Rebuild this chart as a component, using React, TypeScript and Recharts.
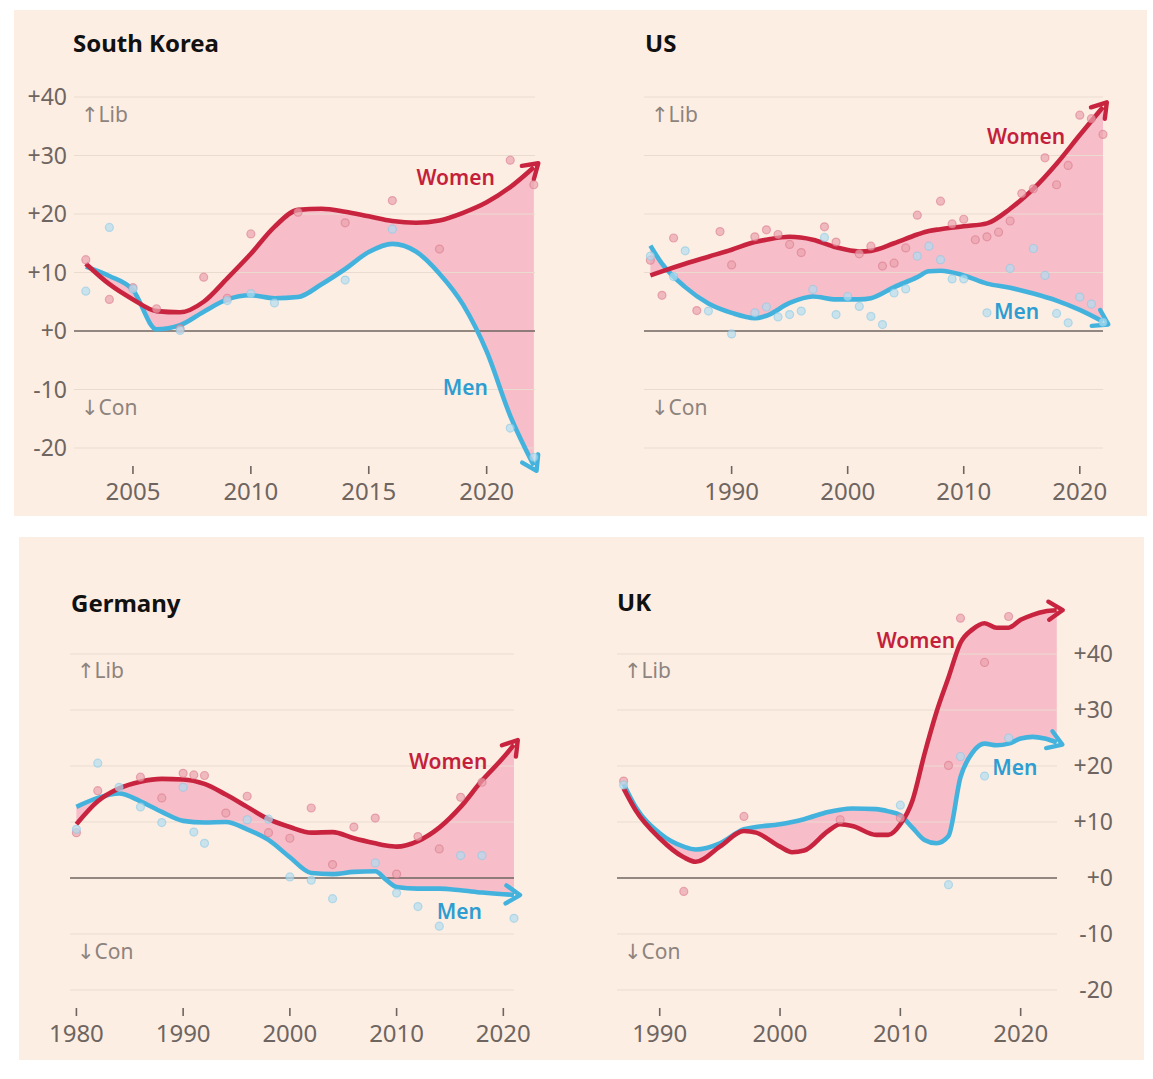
import React from 'react'
import {
  ComposedChart,
  Line,
  Area,
  Scatter,
  XAxis,
  YAxis,
  ReferenceLine,
  ReferenceDot,
} from 'recharts'

const RED = '#c8243f'
const BLUE = '#43b3de'
const RED_TEXT = '#c41f3b'
const BLUE_TEXT = '#2e9dd1'
const FILL = '#f6b7c5'
const BG = '#fdeee4'
const GRID = '#eadbcf'
const ZERO = '#6e6661'
const AXIS_TEXT = '#6e6560'
const NOTE_TEXT = '#8d847e'
const HALO = '#fff7f2'
const FONT = '"Noto Sans", "DejaVu Sans", sans-serif'

type Pt = [number, number]

const yTicks = [-20, -10, 0, 10, 20, 30, 40]
const yDomain = [-26, 50]

// South Korea
const krYears = [2003, 2004, 2005, 2006, 2007, 2008, 2009, 2010, 2011, 2012, 2013, 2014, 2015, 2016, 2017, 2018, 2019, 2020, 2021, 2022]
const krWomen = [11.5, 8.0, 5.4, 3.4, 3.2, 5.0, 9.0, 13.2, 17.8, 20.7, 20.9, 20.4, 19.6, 18.8, 18.5, 18.9, 20.2, 22.0, 24.6, 28.0]
const krMen = [11.0, 9.4, 7.0, 0.3, 1.0, 3.3, 5.4, 6.1, 5.6, 5.8, 8.0, 10.6, 13.5, 14.9, 13.6, 9.8, 4.5, -3.5, -14.5, -23.0]
const krWomenDots: Pt[] = [[2003, 12.2], [2004, 5.4], [2005, 7.4], [2006, 3.8], [2007, 0.4], [2008, 9.2], [2009, 5.6], [2010, 16.6], [2012, 20.3], [2014, 18.5], [2016, 22.3], [2018, 14.0], [2021, 29.2], [2022, 25.0]]
const krMenDots: Pt[] = [[2003, 6.8], [2004, 17.7], [2005, 7.2], [2007, 0.1], [2009, 5.2], [2010, 6.4], [2011, 4.8], [2014, 8.7], [2016, 17.4], [2021, -16.6], [2022, -21.6]]

// US
const usYears = [1983, 1984, 1986, 1988, 1990, 1992, 1993, 1995, 1997, 1999, 2001, 2002, 2004, 2006, 2007, 2008, 2010, 2012, 2014, 2016, 2018, 2020, 2022]
const usWomen = [9.5, 10.2, 11.5, 12.7, 13.9, 15.2, 15.6, 16.1, 15.6, 14.3, 13.6, 13.7, 15.0, 16.5, 17.1, 17.4, 17.9, 18.4, 20.9, 24.3, 28.6, 33.5, 38.3]
const usMen = [14.6, 11.5, 7.5, 4.7, 3.1, 2.2, 2.6, 4.8, 5.9, 5.4, 5.4, 5.6, 7.5, 9.2, 10.2, 10.3, 9.5, 8.1, 7.4, 6.4, 5.2, 3.6, 1.6]
const usWomenDots: Pt[] = [[1983, 12.1], [1984, 6.1], [1985, 15.9], [1987, 3.5], [1989, 17.0], [1990, 11.3], [1992, 16.1], [1993, 17.3], [1994, 16.5], [1995, 14.8], [1996, 13.4], [1998, 17.8], [1999, 15.2], [2001, 13.2], [2002, 14.5], [2003, 11.1], [2004, 11.6], [2005, 14.2], [2006, 19.8], [2008, 22.2], [2009, 18.3], [2010, 19.1], [2011, 15.6], [2012, 16.1], [2013, 16.9], [2014, 18.8], [2015, 23.5], [2016, 24.3], [2017, 29.6], [2018, 25.0], [2019, 28.3], [2020, 36.9], [2021, 36.3], [2022, 33.6]]
const usMenDots: Pt[] = [[1983, 12.8], [1985, 9.3], [1986, 13.7], [1988, 3.4], [1990, -0.5], [1992, 3.1], [1993, 4.1], [1994, 2.4], [1995, 2.8], [1996, 3.4], [1997, 7.1], [1998, 16.0], [1999, 2.8], [2000, 5.9], [2001, 4.2], [2002, 2.5], [2003, 1.1], [2004, 6.5], [2005, 7.2], [2006, 12.8], [2007, 14.5], [2008, 12.2], [2009, 8.9], [2010, 8.9], [2012, 3.1], [2014, 10.7], [2016, 14.1], [2017, 9.5], [2018, 3.0], [2019, 1.4], [2020, 5.8], [2021, 4.6], [2022, 1.5]]

// Germany
const deYears = [1980, 1982, 1984, 1986, 1988, 1990, 1992, 1994, 1996, 1998, 2000, 2002, 2004, 2006, 2008, 2009, 2010, 2012, 2014, 2016, 2018, 2020, 2021]
const deWomen = [9.6, 13.7, 16.0, 17.2, 17.7, 17.6, 16.8, 14.9, 12.7, 10.5, 9.1, 8.1, 8.2, 7.1, 6.2, 5.8, 5.6, 6.6, 9.0, 12.7, 17.4, 21.5, 23.8]
const deMen = [12.7, 14.3, 15.1, 13.7, 11.8, 10.2, 9.9, 10.0, 8.7, 6.8, 3.7, 0.9, 0.7, 1.1, 1.2, -0.3, -1.6, -1.9, -1.9, -2.2, -2.6, -2.9, -3.0]
const deWomenDots: Pt[] = [[1980, 8.1], [1982, 15.6], [1986, 18.0], [1988, 14.3], [1990, 18.7], [1991, 18.4], [1992, 18.3], [1994, 11.6], [1996, 14.6], [1998, 8.1], [2000, 7.1], [2002, 12.5], [2004, 2.4], [2006, 9.1], [2008, 10.7], [2010, 0.7], [2012, 7.4], [2014, 5.2], [2016, 14.4], [2018, 17.1]]
const deMenDots: Pt[] = [[1980, 8.7], [1982, 20.5], [1984, 16.2], [1986, 12.7], [1988, 9.9], [1990, 16.2], [1991, 8.2], [1992, 6.2], [1996, 10.4], [1998, 10.5], [2000, 0.2], [2002, -0.4], [2004, -3.7], [2008, 2.7], [2010, -2.7], [2012, -5.1], [2014, -8.6], [2016, 4.0], [2018, 4.0], [2021, -7.2]]

// UK
const ukYears = [1987, 1988, 1990, 1992, 1993, 1995, 1997, 1998, 2000, 2001, 2002, 2004, 2005, 2006, 2008, 2009, 2010, 2011, 2012, 2013, 2014, 2015, 2016, 2017, 2018, 2019, 2020, 2021, 2022, 2023]
const ukWomen = [16.0, 12.1, 7.1, 3.7, 2.9, 5.6, 8.4, 8.1, 5.6, 4.6, 4.9, 8.4, 9.6, 9.3, 7.7, 7.7, 9.6, 13.8, 22.1, 29.6, 35.8, 42.0, 44.4, 45.5, 44.7, 44.7, 46.1, 47.0, 47.6, 47.8]
const ukMen = [16.8, 12.7, 8.0, 5.6, 5.1, 6.2, 8.7, 9.1, 9.6, 10.0, 10.5, 11.8, 12.2, 12.4, 12.3, 11.9, 11.2, 9.0, 6.8, 6.2, 7.5, 18.0, 22.4, 24.0, 23.7, 24.0, 24.9, 25.2, 24.9, 24.2]
const ukWomenDots: Pt[] = [[1987, 17.3], [1992, -2.4], [1997, 11.0], [2005, 10.4], [2010, 10.7], [2014, 20.1], [2015, 46.4], [2017, 38.5], [2019, 46.7]]
const ukMenDots: Pt[] = [[1987, 16.6], [2010, 13.0], [2014, -1.2], [2015, 21.7], [2017, 18.2], [2019, 25.0]]

function rows(years: number[], women: number[], men: number[]) {
  return years.map((year, i) => ({ year, women: women[i], men: men[i], band: [men[i], women[i]] }))
}

function dots(list: Pt[]) {
  return list.map(([year, value]) => ({ year, value }))
}

function fmtY(v: number) {
  if (v > 0) return `+${v}`
  if (v === 0) return '+0'
  return `${v}`
}

interface Layout {
  left: number
  top: number
  width: number
  height: number
  plotLeft: number
  plotRight: number
  y40: number
  yM20: number
  axis: 'left' | 'right' | 'none'
}

interface ChartProps {
  data: any[]
  womenDots: Pt[]
  menDots: Pt[]
  xDomain: [number, number]
  xTicks: number[]
  layout: Layout
  womenLabel: Pt
  menLabel: Pt
}

const textStyle = { fontFamily: FONT }

function CountryChart({ data, womenDots, menDots, xDomain, xTicks, layout, womenLabel, menLabel }: ChartProps) {
  const ppu = (layout.yM20 - layout.y40) / 60
  const plotTop = layout.y40 - (yDomain[1] - 40) * ppu
  const plotBottom = layout.yM20 + (-20 - yDomain[0]) * ppu
  const leftW = layout.plotLeft - layout.left
  const rightW = layout.left + layout.width - layout.plotRight
  const xAxisH = layout.top + layout.height - plotBottom
  const off = layout.yM20 - plotBottom
  const onRight = layout.axis === 'right'

  const XTick = (p: any) => (
    <g>
      <line x1={p.x} x2={p.x} y1={p.y + off + 18} y2={p.y + off + 26} stroke={AXIS_TEXT} strokeWidth={1.6} />
      <text x={p.x} y={p.y + off + 52} textAnchor="middle" fontSize={24} fill={AXIS_TEXT} style={textStyle}>
        {p.payload.value}
      </text>
    </g>
  )

  const YTick = (p: any) => {
    if (layout.axis === 'none') return <g />
    return (
      <text
        x={onRight ? p.x + 56 : p.x - 7}
        y={p.y}
        dy="0.36em"
        textAnchor="end"
        fontSize={23}
        fill={AXIS_TEXT}
        style={textStyle}
      >
        {fmtY(p.payload.value)}
      </text>
    )
  }

  const note = (label: string) => (p: any) => (
    <text x={p.cx + 7} y={p.cy} fontSize={21} fill={NOTE_TEXT} style={textStyle}>
      {label}
    </text>
  )

  const seriesLabel = (label: string, color: string) => (p: any) => (
    <text x={p.cx} y={p.cy} textAnchor="end" fontSize={21} fontWeight={600} fill={color} style={textStyle}>
      {label}
    </text>
  )

  return (
    <div style={{ position: 'absolute', left: layout.left, top: layout.top }}>
      <ComposedChart
        width={layout.width}
        height={layout.height}
        data={data}
        margin={{ top: plotTop - layout.top, bottom: 0, left: onRight ? leftW : 0, right: onRight ? 0 : rightW }}
        style={{ overflow: 'visible' }}
      >
        <XAxis
          dataKey="year"
          type="number"
          domain={xDomain}
          ticks={xTicks}
          interval={0}
          height={xAxisH}
          tickSize={0}
          tickMargin={0}
          axisLine={false}
          tickLine={false}
          tick={XTick}
        />
        <YAxis
          type="number"
          orientation={onRight ? 'right' : 'left'}
          width={onRight ? rightW : leftW}
          domain={yDomain}
          ticks={yTicks}
          interval={0}
          tickSize={0}
          tickMargin={0}
          axisLine={false}
          tickLine={false}
          tick={YTick}
        />
        {yTicks.map((v) => (
          <ReferenceLine key={v} y={v} stroke={v === 0 ? ZERO : GRID} strokeWidth={v === 0 ? 1.4 : 1.2} />
        ))}
        <Area dataKey="band" stroke="none" fill={FILL} fillOpacity={0.9} isAnimationActive={false} activeDot={false} />
        <Scatter
          data={dots(womenDots)}
          dataKey="value"
          isAnimationActive={false}
          shape={(p: any) => (
            <circle cx={p.cx} cy={p.cy} r={4} fill="#eaa3ad" fillOpacity={0.7} stroke="#d8778a" strokeOpacity={0.55} strokeWidth={1.2} />
          )}
        />
        <Scatter
          data={dots(menDots)}
          dataKey="value"
          isAnimationActive={false}
          shape={(p: any) => (
            <circle cx={p.cx} cy={p.cy} r={4} fill="#b2ddef" fillOpacity={0.7} stroke="#86c9e5" strokeOpacity={0.55} strokeWidth={1.2} />
          )}
        />
        <Line
          dataKey="men"
          type="monotone"
          stroke={BLUE}
          strokeWidth={4.6}
          dot={false}
          activeDot={false}
          markerEnd="url(#arrow-blue)"
          isAnimationActive={false}
        />
        <Line
          dataKey="women"
          type="monotone"
          stroke={RED}
          strokeWidth={4.6}
          dot={false}
          activeDot={false}
          markerEnd="url(#arrow-red)"
          isAnimationActive={false}
        />
        <ReferenceDot x={xDomain[0]} y={35.7} r={0} ifOverflow="visible" shape={note('↑Lib')} />
        <ReferenceDot x={xDomain[0]} y={-14.4} r={0} ifOverflow="visible" shape={note('↓Con')} />
        <ReferenceDot x={womenLabel[0]} y={womenLabel[1]} r={0} ifOverflow="visible" shape={seriesLabel('Women', RED_TEXT)} />
        <ReferenceDot x={menLabel[0]} y={menLabel[1]} r={0} ifOverflow="visible" shape={seriesLabel('Men', BLUE_TEXT)} />
      </ComposedChart>
    </div>
  )
}

function ArrowMarker({ id, color }: { id: string; color: string }) {
  return (
    <marker
      id={id}
      viewBox="0 0 24 24"
      markerWidth={24}
      markerHeight={24}
      refX={12}
      refY={12}
      markerUnits="userSpaceOnUse"
      orient="auto"
      overflow="visible"
    >
      <path d="M4,3 L18,12 L4,21" fill="none" stroke={color} strokeWidth={4.4} strokeLinecap="round" strokeLinejoin="round" />
    </marker>
  )
}

export default function App() {
  return (
    <div style={{ position: 'relative', width: 1153, height: 1079, background: '#fff', overflow: 'hidden' }}>
      <style>{'body{margin:0;background:#fff;}'}</style>
      <div style={{ position: 'absolute', left: 14, top: 10, width: 1133, height: 506, background: BG }} />
      <div style={{ position: 'absolute', left: 19, top: 537, width: 1125, height: 523, background: BG }} />

      <CountryChart
        data={rows(krYears, krWomen, krMen)}
        womenDots={krWomenDots}
        menDots={krMenDots}
        xDomain={[2002.5, 2022.05]}
        xTicks={[2005, 2010, 2015, 2020]}
        layout={{ left: 14, top: 10, width: 560, height: 506, plotLeft: 74, plotRight: 535, y40: 97, yM20: 448, axis: 'left' }}
        womenLabel={[2020.35, 25]}
        menLabel={[2020.05, -10.9]}
      />
      <CountryChart
        data={rows(usYears, usWomen, usMen)}
        womenDots={usWomenDots}
        menDots={usMenDots}
        xDomain={[1982.45, 2022]}
        xTicks={[1990, 2000, 2010, 2020]}
        layout={{ left: 574, top: 10, width: 573, height: 506, plotLeft: 644, plotRight: 1103, y40: 97, yM20: 448, axis: 'none' }}
        womenLabel={[2018.75, 32]}
        menLabel={[2016.5, 2.1]}
      />
      <CountryChart
        data={rows(deYears, deWomen, deMen)}
        womenDots={deWomenDots}
        menDots={deMenDots}
        xDomain={[1979.4, 2021]}
        xTicks={[1980, 1990, 2000, 2010, 2020]}
        layout={{ left: 19, top: 537, width: 550, height: 523, plotLeft: 70, plotRight: 514, y40: 654, yM20: 990, axis: 'none' }}
        womenLabel={[2018.5, 19.5]}
        menLabel={[2018.0, -7.3]}
      />
      <CountryChart
        data={rows(ukYears, ukWomen, ukMen)}
        womenDots={ukWomenDots}
        menDots={ukMenDots}
        xDomain={[1986.45, 2023.02]}
        xTicks={[1990, 2000, 2010, 2020]}
        layout={{ left: 569, top: 537, width: 575, height: 523, plotLeft: 617, plotRight: 1057, y40: 654, yM20: 990, axis: 'right' }}
        womenLabel={[2014.55, 41]}
        menLabel={[2021.4, 18.4]}
      />

      <svg
        width={1153}
        height={1079}
        style={{ position: 'absolute', left: 0, top: 0, pointerEvents: 'none' }}
      >
        <defs>
          <ArrowMarker id="arrow-red" color={RED} />
          <ArrowMarker id="arrow-blue" color={BLUE} />
        </defs>
        <g fontSize={24} fontWeight={700} fill="#111" style={textStyle}>
          <text x={73} y={52}>South Korea</text>
          <text x={645} y={52}>US</text>
          <text x={71} y={612}>Germany</text>
          <text x={617} y={611}>UK</text>
        </g>
      </svg>
    </div>
  )
}
